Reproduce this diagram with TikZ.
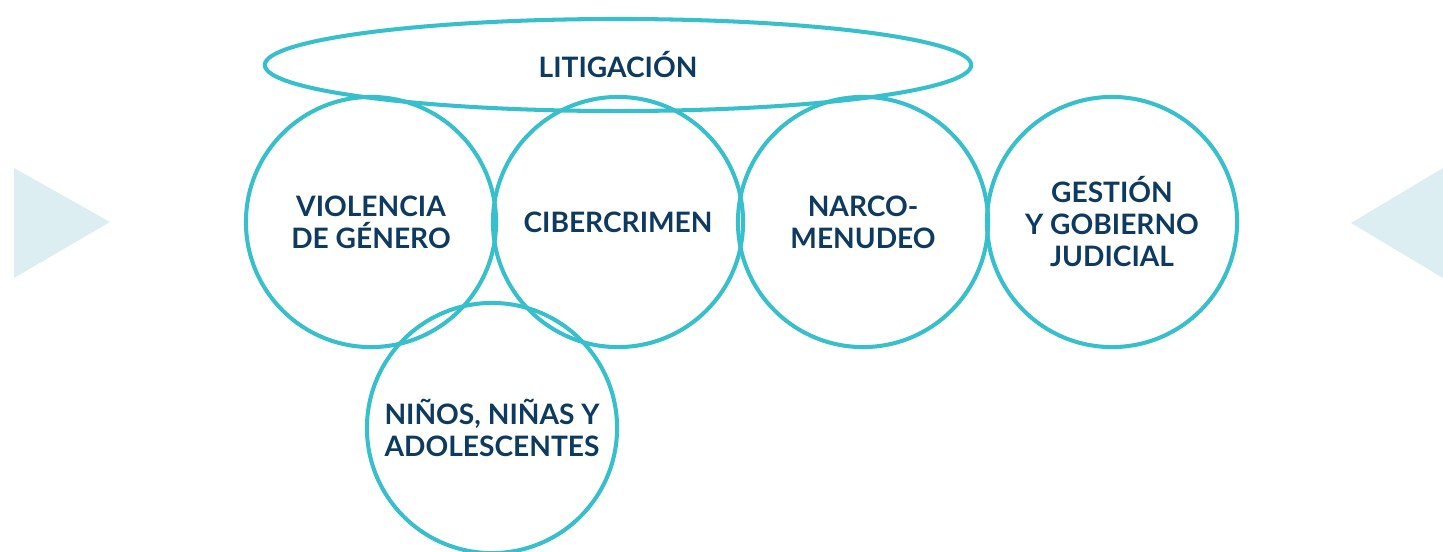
\documentclass[tikz,border=0pt]{standalone}
\usepackage{fontspec}
\setmainfont{Lato}
\usetikzlibrary{shapes.geometric}

\definecolor{aqua}{HTML}{37BFCB}
\definecolor{navy}{HTML}{0E3A5F}
\definecolor{paleblue}{HTML}{DDEEF3}

\tikzset{
  area/.style={circle,draw=aqua,line width=1.15pt,minimum size=2.5cm,inner sep=0pt,
    text=navy,font=\fontsize{8}{9.1}\selectfont\bfseries,align=center},
  litig/.style={ellipse,draw=aqua,line width=1.15pt,minimum width=7.06cm,minimum height=0.92cm,
    inner sep=0pt,text=navy,font=\fontsize{8}{9.1}\selectfont\bfseries}
}

\begin{document}
\begin{tikzpicture}[x=0.01cm,y=-0.01cm]
\useasboundingbox (0,0) rectangle (1443,551);
\fill[paleblue] (14,168) -- (110,222) -- (14,278) -- cycle;
\fill[paleblue] (1443,168) -- (1351,223) -- (1443,278) -- cycle;

\node[litig] (litigacion) at (618,65) {\raisebox{-0.9pt}{LITIGACIÓN}};

\node[area] (violencia) at (371,222) {VIOLENCIA\\DE GÉNERO};
\node[area] (ciber) at (618,222) {CIBERCRIMEN};
\node[area] (narco) at (863,222) {NARCO-\\MENUDEO};
\node[area] (gestion) at (1112,222) {GESTIÓN\\Y GOBIERNO\\JUDICIAL};
\node[area] (ninos) at (492,428) {NIÑOS, NIÑAS Y\\ADOLESCENTES};

\end{tikzpicture}
\end{document}
